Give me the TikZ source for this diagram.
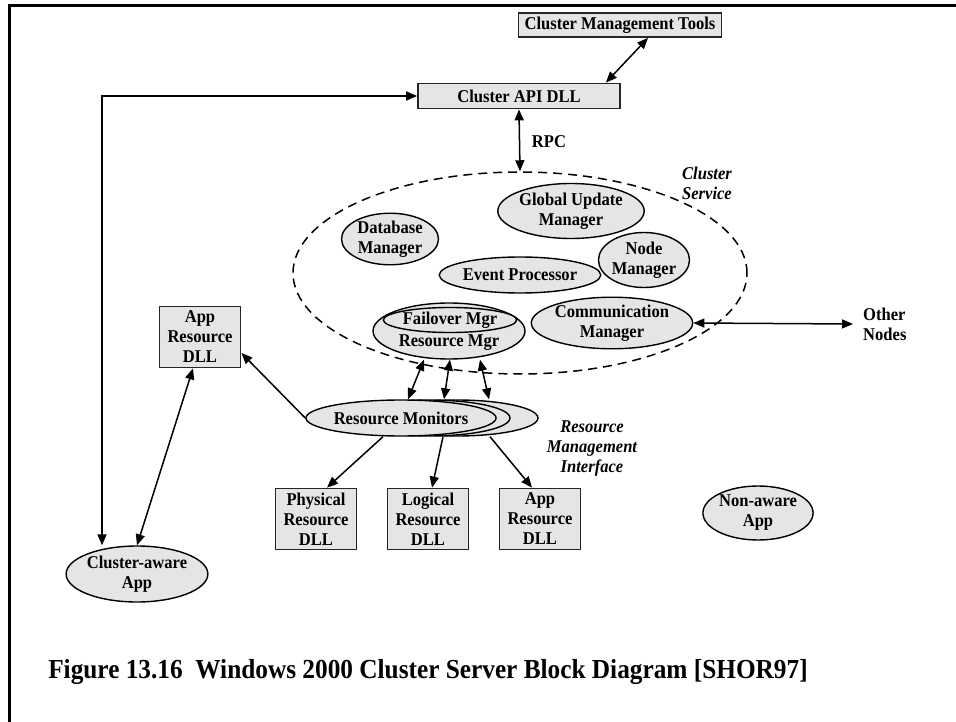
\documentclass[tikz,border=0pt]{standalone}
\usepackage{fontspec}
\setmainfont[FakeStretch=0.92]{Liberation Serif}
\usetikzlibrary{shapes.geometric,arrows.meta,calc}
\begin{document}
\begin{tikzpicture}[x=1pt,y=-1pt,
  every node/.style={font=\fontsize{18}{20}\selectfont\bfseries, align=center, inner sep=0pt},
  box/.style={draw=black!85, line width=1.8pt, fill=black!10, rectangle},
  ell/.style={draw=black, line width=1.4pt, fill=black!10, ellipse},
  tip/.tip={Triangle[length=11pt,width=9pt]},
  con/.style={line width=1.5pt, -tip},
  bicon/.style={line width=1.5pt, tip-tip},
  lab/.style={font=\fontsize{18}{20}\selectfont\bfseries\itshape},
]
\useasboundingbox (0,0) rectangle (956,722);
\fill[white] (0,0) rectangle (956,722);
\draw[line width=3pt] (9,722) -- (9,6) -- (956,6);

% top boxes
\node[box, minimum width=203pt, minimum height=24pt] (cmt) at (620,25) {Cluster Management Tools};
\node[box, minimum width=202pt, minimum height=25pt] (api) at (519,96) {Cluster API DLL};

% cluster service
\node[ellipse, draw, dashed, dash pattern=on 9pt off 6pt, line width=1.5pt, minimum width=454pt, minimum height=202pt] (cs) at (520,273) {};
\node[lab] (cslab) at (707,183) {Cluster\\Service};
\node[ell, minimum width=122pt, minimum height=55pt] (gum) at (571,211) {Global Update\\Manager};
\node[ell, minimum width=97pt, minimum height=48pt] (dbm) at (390,239) {Database\\Manager};
\node[ell, minimum width=85pt, minimum height=55pt] (nm) at (644,260) {Node\\Manager};
\node[ell, minimum width=133pt, minimum height=36pt] (ep) at (520,275) {Event Processor};
\node[ell, minimum width=152pt, minimum height=44pt] (comm) at (612,323) {Communication\\Manager};
\node[ell, minimum width=152pt, minimum height=56pt] (rmgr) at (449,331) {};
\node[ell, minimum width=118pt, minimum height=25pt] (fm) at (450,320) {Failover Mgr};
\node (rmgrlab) at (449,343) {Resource Mgr};

% resource monitors
\node[ell, minimum width=162pt, minimum height=36pt] (rm3) at (457,418) {};
\node[ell, minimum width=162pt, minimum height=36pt] (rm2) at (429,418) {};
\node[ell, minimum width=162pt, minimum height=36pt] (rm1) at (401,418) {Resource Monitors};
\node[lab] (rmi) at (592,449) {Resource\\Management\\Interface};

% DLL boxes
\node[box, minimum width=81pt, minimum height=61pt] (ard) at (200,337) {App\\Resource\\DLL};
\node[box, minimum width=81pt, minimum height=61pt] (phys) at (316,519) {Physical\\Resource\\DLL};
\node[box, minimum width=81pt, minimum height=61pt] (logi) at (428,519) {Logical\\Resource\\DLL};
\node[box, minimum width=81pt, minimum height=61pt] (appd) at (540,519) {App\\Resource\\DLL};

% apps
\node[ell, minimum width=84pt, minimum height=54pt] (naa) at (758,513) {Non-aware\\App};
\node[ell, minimum width=112pt, minimum height=56pt] (caa) at (137,574) {Cluster-aware\\App};

% other labels
\node (rpc) at (549,142) {RPC};
\node[anchor=west, align=left] (on) at (863,324) {Other\\Nodes};
\node[font=\fontsize{27.5}{30}\selectfont\bfseries] (cap) at (428,672) {Figure 13.16\ \ Windows 2000 Cluster Server Block Diagram [SHOR97]};

% connectors
\coordinate (lc) at (102,96);
\draw[bicon] ([xshift=-15pt]api.north east) -- ([xshift=28pt]cmt.south);
\draw[bicon] (caa.north -| lc) -- (lc) -- (api.west);
\draw[bicon] (api.south) -- (cs.north);
\draw[bicon] (comm.east) -- ([xshift=-10pt]on.west);
\draw[bicon] ([xshift=-25pt]rmgr.south) -- ([xshift=7pt]rm1.north);
\draw[bicon] ([xshift=1pt]rmgr.south) -- ([xshift=15pt]rm2.north);
\draw[bicon] ([xshift=31pt]rmgr.south) -- ([xshift=32pt]rm3.north);
\draw[con] (rm1.west) -- ([yshift=-16pt]ard.east);
\draw[bicon] (caa.north) -- ([xshift=-7pt]ard.south);
\draw[con] ([xshift=-18pt]rm1.south) -- ([xshift=11pt]phys.north);
\draw[con] ([xshift=14pt]rm2.south) -- ([xshift=4pt]logi.north);
\draw[con] ([xshift=33pt]rm3.south) -- ([xshift=-8pt]appd.north);
\end{tikzpicture}
\end{document}
